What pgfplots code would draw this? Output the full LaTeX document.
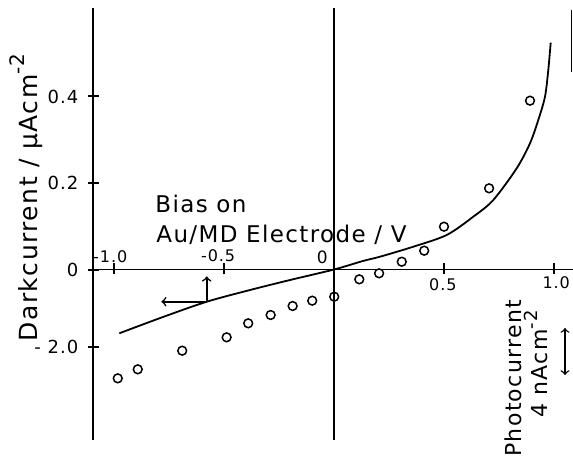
\documentclass[border=0pt]{standalone}
\usepackage{pgfplots}
\pgfplotsset{compat=1.18}
\usepackage{fontspec}
\setmainfont{DejaVu Sans}[LetterSpace=6]
\begin{document}
\begin{tikzpicture}
\useasboundingbox (-46.5pt,-11pt) rectangle (240pt,220pt);
\begin{axis}[
  at={(0,0)}, anchor=south west,
  scale only axis, width=240pt, height=216pt,
  xmin=-1.0955, xmax=1.0864, ymin=-0.3942, ymax=0.6046,
  axis x line*=middle, axis y line*=left,
  axis line style={line width=0.8pt, black},
  xtick={-1,-0.5,0.5,1}, xticklabels={},
  ytick={-0.1792,0,0.2,0.4}, yticklabels={- 2.0,0,0.2,0.4},
  tick align=center, major tick length=4.5pt,
  every tick/.style={line width=0.8pt, black},
  yticklabel style={font=\fontsize{9}{10}\selectfont, anchor=east, xshift=-1.5pt},
  clip=false,
]
% solid curve (dark current)
\addplot[black, line width=0.9pt, smooth] coordinates {
(-0.9759,-0.1475) (-0.7773,-0.1098) (-0.5786,-0.0745) (-0.3818,-0.0474)
(-0.2,-0.0243) (0,0) (0.1318,0.0197) (0.2091,0.0296) (0.3605,0.0527)
(0.5123,0.0798) (0.6332,0.1221) (0.7241,0.1607) (0.8305,0.2340)
(0.8909,0.2918) (0.9286,0.3457) (0.9591,0.3995) (0.9741,0.4613) (0.9850,0.5244)
};
% circles (photocurrent)
\addplot[only marks, mark=o, mark size=2.2pt, mark options={line width=0.75pt, black}] coordinates {
(-0.983,-0.2516) (-0.892,-0.2308) (-0.690,-0.1877) (-0.488,-0.1568)
(-0.390,-0.1244) (-0.288,-0.1052) (-0.188,-0.0844) (-0.099,-0.0721)
(0.001,-0.0629) (0.115,-0.0227) (0.205,-0.0088) (0.308,0.0180)
(0.410,0.0435) (0.500,0.0990) (0.705,0.1877) (0.891,0.3903)
};
% vertical line at zero bias
\draw[line width=0.8pt] (axis cs:0,-0.3942) -- (axis cs:0,0.6046);
% tick marks
\draw[line width=1pt] (axis cs:-1.12,-0.1792) -- (axis cs:-1.066,-0.1792);
\draw[line width=1pt] (axis cs:-1.12,0) -- (axis cs:-1.066,0);
\draw[line width=1pt] (axis cs:-1.12,0.2) -- (axis cs:-1.066,0.2);
\draw[line width=1pt] (axis cs:-1.12,0.4) -- (axis cs:-1.066,0.4);
\draw[line width=1pt] (axis cs:-1,-0.010) -- (axis cs:-1,0.014);
\draw[line width=1pt] (axis cs:-0.5,-0.010) -- (axis cs:-0.5,0.014);
\draw[line width=1pt] (axis cs:0.5,-0.010) -- (axis cs:0.5,0.014);
\draw[line width=1pt] (axis cs:1,-0.010) -- (axis cs:1,0.014);
% edge artifact line
\draw[line width=0.6pt] (axis cs:1.081,0.60) -- (axis cs:1.081,0.4566);
% x tick labels
\node[anchor=base, font=\fontsize{8}{9}\selectfont] at (axis cs:-1.017,0.0173) {-1.0};
\node[anchor=base, font=\fontsize{8}{9}\selectfont] at (axis cs:-0.527,0.0180) {-0.5};
\node[anchor=base east, inner sep=0pt, font=\fontsize{8.5}{9}\selectfont] at (axis cs:-0.0273,0.015) {0};
\node[anchor=base, font=\fontsize{8}{9}\selectfont] at (axis cs:0.495,-0.0474) {0.5};
\node[anchor=base, font=\fontsize{8}{9}\selectfont] at (axis cs:1.01,-0.045) {1.0};
% arrows from curve
\draw[->, line width=0.8pt] (axis cs:-0.5786,-0.0745) -- (axis cs:-0.5786,-0.016);
\draw[->, line width=0.8pt] (axis cs:-0.5786,-0.0745) -- (axis cs:-0.785,-0.0745);
% texts
\node[rotate=90, anchor=base, inner sep=0pt, font=\fontsize{12.5}{15}\selectfont] at (axis cs:-1.35,0.1665) {Darkcurrent / μAcm\raisebox{0.9ex}{\fontsize{10}{12}\selectfont -2}};
\node[anchor=base west, inner sep=0pt, font=\fontsize{11.5}{13}\selectfont] at (axis cs:-0.8136,0.1318) {Bias on};
\node[anchor=base west, inner sep=0pt, font=\fontsize{11.5}{13}\selectfont] at (axis cs:-0.8091,0.0613) {Au/MD Electrode / V};
\node[rotate=90, anchor=base west, inner sep=0pt, font=\fontsize{11}{13}\selectfont] at (axis cs:0.8545,-0.4335) {Photocurrent};
\node[rotate=90, anchor=base west, inner sep=0pt, font=\fontsize{11}{13}\selectfont] at (axis cs:0.9727,-0.3434) {4 nAcm\raisebox{0.9ex}{\fontsize{9}{11}\selectfont -2}};
\draw[<->, line width=0.7pt] (axis cs:1.05,-0.1353) -- (axis cs:1.05,-0.2439);
\end{axis}
\end{tikzpicture}
\end{document}
